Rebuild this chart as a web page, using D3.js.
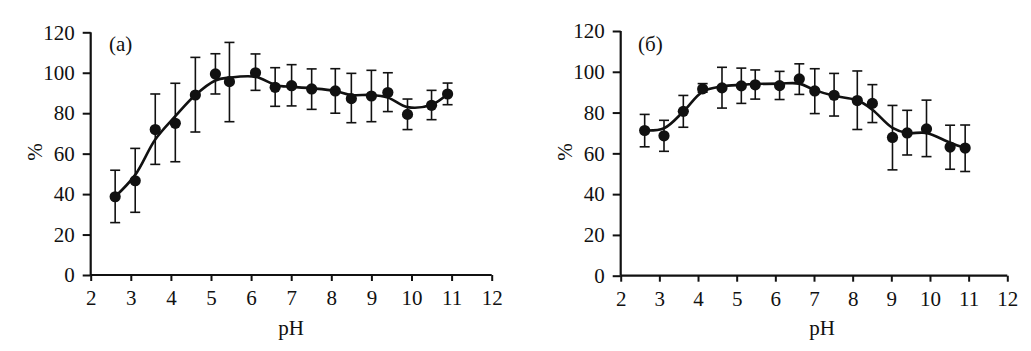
<!DOCTYPE html>
<html>
<head>
<meta charset="utf-8">
<script src="https://cdn.jsdelivr.net/npm/d3@7"></script>
</head>
<body style="margin:0;background:#fff">
<svg id="chart" width="1031" height="351"></svg>
<script>
// ---- data ----
const xTicks = [2, 3, 4, 5, 6, 7, 8, 9, 10, 11, 12];
const yTicks = [0, 20, 40, 60, 80, 100, 120];

// Panel (a)
const phA   = [2.61, 3.11, 3.61, 4.11, 4.61, 5.11, 5.46, 6.11, 6.60, 7.01, 7.51, 8.10, 8.50, 9.00, 9.41, 9.90, 10.50, 10.90];
const valA  = [38.7, 46.6, 71.9, 75.0, 89.0, 99.4, 95.6, 100.0, 92.8, 93.6, 92.0, 91.0, 87.2, 88.5, 90.2, 79.4, 83.9, 89.5];
const hiA   = [51.8, 62.6, 89.5, 94.8, 107.6, 109.4, 115.0, 109.3, 102.5, 104.0, 101.9, 102.0, 99.7, 101.2, 100.0, 87.0, 91.3, 94.9];
const loA   = [25.9, 31.0, 54.7, 56.0, 70.7, 89.5, 75.8, 91.3, 83.4, 83.6, 81.9, 80.0, 75.3, 75.8, 80.8, 71.9, 76.8, 84.2];
const fitA  = [38.7, 49.5, 67.0, 78.5, 89.0, 96.2, 97.6, 98.0, 94.0, 93.0, 92.3, 91.0, 89.0, 89.0, 87.7, 83.0, 84.2, 89.5];

// Panel (б)
const phB   = [2.62, 3.12, 3.62, 4.12, 4.62, 5.12, 5.48, 6.11, 6.62, 7.02, 7.52, 8.12, 8.51, 9.03, 9.41, 9.91, 10.52, 10.91];
const valB  = [71.2, 68.6, 80.6, 91.6, 92.1, 93.1, 93.6, 93.2, 96.5, 90.6, 88.5, 85.9, 84.5, 67.8, 70.0, 72.0, 63.1, 62.6];
const hiB   = [79.1, 76.2, 88.4, 94.2, 102.2, 101.8, 100.9, 100.2, 103.9, 101.5, 99.2, 100.4, 93.7, 83.5, 81.1, 86.1, 73.8, 73.9];
const loB   = [63.2, 61.0, 72.8, 90.0, 82.2, 84.5, 86.6, 86.4, 88.9, 79.5, 78.3, 71.7, 75.1, 51.9, 59.2, 58.4, 52.2, 51.1];
const fitB  = [71.2, 72.3, 80.5, 90.3, 92.8, 93.6, 94.0, 94.2, 94.2, 91.0, 88.2, 86.0, 81.4, 72.5, 70.0, 70.0, 65.2, 62.6];

const panels = [
  { label: "(a)", ph: phA, val: valA, hi: hiA, lo: loA, fit: fitA,
    x0: 90.7, x1: 491.7, y0: 275, y1: 32.3, labX: 109, pHx: 291, pctX: 42 },
  { label: "(б)", ph: phB, val: valB, hi: hiB, lo: loB, fit: fitB,
    x0: 620.7, x1: 1007.3, y0: 275.7, y1: 31, labX: 638, pHx: 822, pctX: 572 }
];

const svg = d3.select("#chart");

panels.forEach(p => {
  const x = d3.scaleLinear().domain([2, 12]).range([p.x0, p.x1]);
  const y = d3.scaleLinear().domain([0, 120]).range([p.y0, p.y1]);

  // axes
  const xAxis = svg.append("g").attr("transform", `translate(0,${p.y0})`)
    .call(d3.axisBottom(x).tickValues(xTicks).tickSize(6).tickPadding(4).tickFormat(d3.format("d")));
  const yAxis = svg.append("g").attr("transform", `translate(${p.x0},0)`)
    .call(d3.axisLeft(y).tickValues(yTicks).tickSize(8).tickPadding(8).tickFormat(d3.format("d")));
  xAxis.attr("font-family", "Liberation Serif").attr("font-size", 21);
  yAxis.attr("font-family", "Liberation Serif").attr("font-size", 21);
  xAxis.select(".domain").attr("stroke", "#111").attr("stroke-width", 2.2).attr("d", `M${p.x0},0H${p.x1}`);
  yAxis.select(".domain").attr("stroke", "#111").attr("stroke-width", 2.2).attr("d", `M0,${p.y0}V${p.y1}`);
  xAxis.selectAll(".tick line").attr("stroke", "#111").attr("stroke-width", 2);
  yAxis.selectAll(".tick line").attr("stroke", "#111").attr("stroke-width", 2);
  xAxis.selectAll(".tick text").attr("fill", "#111").attr("dy", "0.95em");
  yAxis.selectAll(".tick text").attr("fill", "#111");

  // error bars
  const idx = d3.range(p.ph.length);
  const eb = svg.append("g").attr("stroke", "#111").attr("stroke-width", 1.6);
  eb.selectAll("line.v").data(idx).join("line").attr("class", "v")
    .attr("x1", i => x(p.ph[i])).attr("x2", i => x(p.ph[i]))
    .attr("y1", i => y(p.hi[i])).attr("y2", i => y(p.lo[i]));
  eb.selectAll("line.t").data(idx).join("line").attr("class", "t")
    .attr("x1", i => x(p.ph[i]) - 5).attr("x2", i => x(p.ph[i]) + 5)
    .attr("y1", i => y(p.hi[i])).attr("y2", i => y(p.hi[i]));
  eb.selectAll("line.b").data(idx).join("line").attr("class", "b")
    .attr("x1", i => x(p.ph[i]) - 5).attr("x2", i => x(p.ph[i]) + 5)
    .attr("y1", i => y(p.lo[i])).attr("y2", i => y(p.lo[i]));

  // fitted curve
  const line = d3.line().x(i => x(p.ph[i])).y(i => y(p.fit[i])).curve(d3.curveCatmullRom.alpha(0.5));
  svg.append("path").attr("d", line(idx)).attr("fill", "none")
    .attr("stroke", "#111").attr("stroke-width", 2.6);

  // points
  svg.append("g").selectAll("circle").data(idx).join("circle")
    .attr("cx", i => x(p.ph[i])).attr("cy", i => y(p.val[i])).attr("r", 5.6).attr("fill", "#111");

  // labels
  svg.append("text").attr("x", p.labX).attr("y", 51)
    .attr("font-family", "Liberation Serif").attr("font-size", 21).attr("fill", "#111").text(p.label);
  svg.append("text").attr("x", p.pHx).attr("y", 335).attr("text-anchor", "middle")
    .attr("font-family", "Liberation Serif").attr("font-size", 21).attr("fill", "#111").text("pH");
  svg.append("text").attr("transform", `translate(${p.pctX},152) rotate(-90)`).attr("text-anchor", "middle")
    .attr("font-family", "Liberation Serif").attr("font-size", 21).attr("fill", "#111").text("%");
});
</script>
</body>
</html>
